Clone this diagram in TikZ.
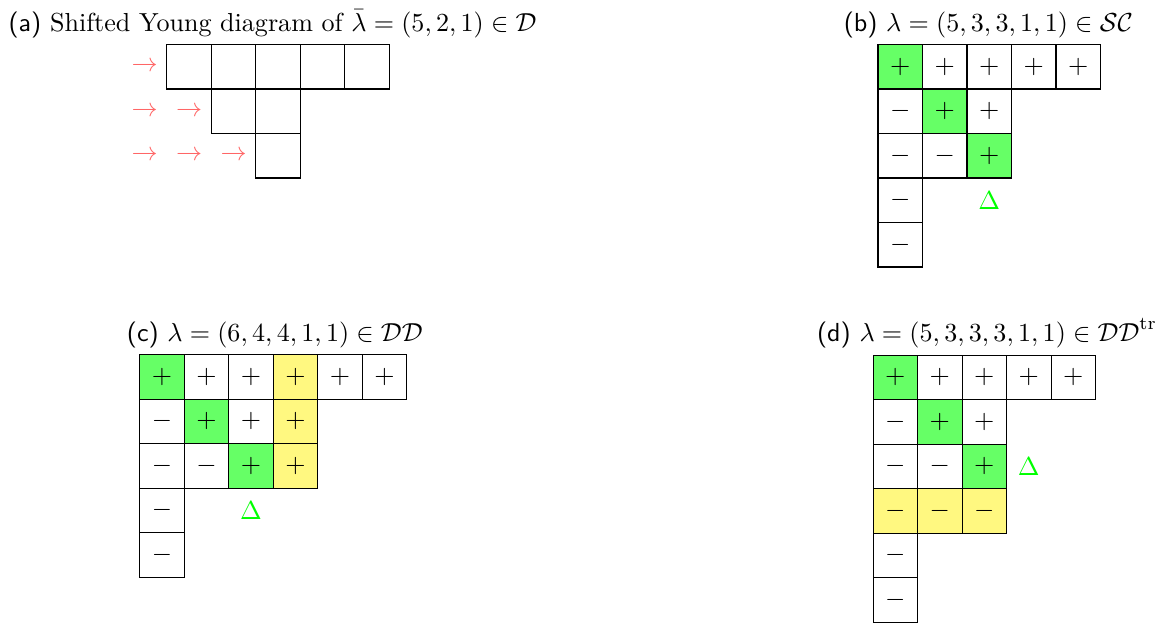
\documentclass[tikz,border=0pt]{standalone}
\usepackage{amsmath}
\begin{document}
\begin{tikzpicture}[x=0.6cm,y=0.6cm,
    cell/.style={draw,minimum size=0.6cm,inner sep=0pt},
    diagcell/.style={cell,fill=green!60},
    stripcell/.style={cell,fill=yellow!50},
    arr/.style={text=red!60,inner sep=0pt},
    deltamark/.style={text=green,inner sep=0pt},
    caption/.style={anchor=base west,inner sep=0pt}]
\useasboundingbox (0,0) rectangle (26.18,-14);

\node[caption] (la) at (0.18,-0.7) {\textsf{(a)} Shifted Young diagram of $\bar{\lambda}=(5,2,1)\in\mathcal{D}$};
\node[caption] (lb) at (18.95,-0.7) {\textsf{(b)} $\lambda=(5,3,3,1,1)\in\mathcal{SC}$};
\node[caption] (lc) at (2.84,-7.67) {\textsf{(c)} $\lambda=(6,4,4,1,1)\in\mathcal{DD}$};
\node[caption] (ld) at (18.35,-7.67) {\textsf{(d)} $\lambda=(5,3,3,3,1,1)\in\mathcal{DD}^{\mathrm{tr}}$};

\begin{scope}[shift={(3.75,-1)}]
    \foreach \r/\c in {1/1,1/2,1/3,1/4,1/5,2/2,2/3,3/3}
        \node[cell] (a-\r-\c) at ({\c-0.5},{0.5-\r}) {};
    \foreach \r/\c in {1/0,2/0,2/1,3/0,3/1,3/2}
        \node[arr] (ar-\r-\c) at ({\c-0.5},{0.5-\r}) {$\rightarrow$};
\end{scope}

\begin{scope}[shift={(19.73,-1)}]
    \foreach \r/\c/\s/\t in {1/1/+/diagcell,1/2/+/cell,1/3/+/cell,1/4/+/cell,1/5/+/cell,
                             2/1/-/cell,2/2/+/diagcell,2/3/+/cell,
                             3/1/-/cell,3/2/-/cell,3/3/+/diagcell,
                             4/1/-/cell,5/1/-/cell}
        \node[\t] (b-\r-\c) at ({\c-0.5},{0.5-\r}) {$\s$};
    \node[deltamark] (b-delta) at (2.5,-3.5) {$\Delta$};
\end{scope}

\begin{scope}[shift={(3.14,-7.97)}]
    \foreach \r/\c/\s/\t in {1/1/+/diagcell,1/2/+/cell,1/3/+/cell,1/4/+/stripcell,1/5/+/cell,1/6/+/cell,
                             2/1/-/cell,2/2/+/diagcell,2/3/+/cell,2/4/+/stripcell,
                             3/1/-/cell,3/2/-/cell,3/3/+/diagcell,3/4/+/stripcell,
                             4/1/-/cell,5/1/-/cell}
        \node[\t] (c-\r-\c) at ({\c-0.5},{0.5-\r}) {$\s$};
    \node[deltamark] (c-delta) at (2.5,-3.5) {$\Delta$};
\end{scope}

\begin{scope}[shift={(19.62,-7.98)}]
    \foreach \r/\c/\s/\t in {1/1/+/diagcell,1/2/+/cell,1/3/+/cell,1/4/+/cell,1/5/+/cell,
                             2/1/-/cell,2/2/+/diagcell,2/3/+/cell,
                             3/1/-/cell,3/2/-/cell,3/3/+/diagcell,
                             4/1/-/stripcell,4/2/-/stripcell,4/3/-/stripcell,
                             5/1/-/cell,6/1/-/cell}
        \node[\t] (d-\r-\c) at ({\c-0.5},{0.5-\r}) {$\s$};
    \node[deltamark] (d-delta) at (3.5,-2.5) {$\Delta$};
\end{scope}
\end{tikzpicture}
\end{document}
